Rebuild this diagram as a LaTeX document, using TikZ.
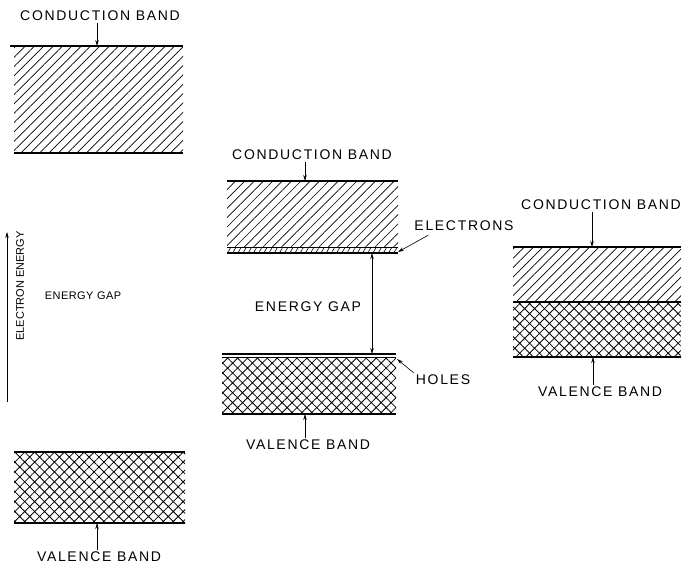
\documentclass[tikz,border=0pt]{standalone}
\usepackage{fontspec}
\setmainfont{Liberation Sans}
\newfontfamily\lblfont[LetterSpace=12]{Liberation Sans}
\newfontfamily\lblsmallfont[LetterSpace=4]{Liberation Sans}
\usepackage{tikz}
\usetikzlibrary{arrows.meta, patterns.meta}

\begin{document}
\begin{tikzpicture}[
    x=1pt, y=-1pt,
    lbl/.style={font=\lblfont\fontsize{14}{16}\selectfont, inner sep=2pt},
    lblsmall/.style={font=\lblsmallfont\fontsize{11}{13}\selectfont, inner sep=2pt},
    edge/.style={line width=1.4pt},
    thinedge/.style={line width=0.7pt},
    hatched/.style={pattern={Lines[angle=45, distance=6.6pt, line width=0.7pt]}},
    crossed/.style={pattern={Hatch[angle=45, distance=7pt, line width=0.8pt]}},
    dashes/.style={pattern={Lines[angle=60, distance=4.5pt, line width=0.6pt]}},
    pointer/.style={->, line width=0.6pt},
    >={Stealth[length=6pt, width=3.5pt]}
]
\useasboundingbox (0,0) rectangle (681,566);
% ============== Left: insulator ==================
\begin{scope}
  % electron energy axis
  \coordinate (axBot) at (7,402);
  \coordinate (axTop) at (7,232);
  \draw[pointer] (axBot) -- (axTop);
  \node[lblsmall, font=\fontsize{11}{13}\selectfont, rotate=90] (axis) at (20,286) {ELECTRON ENERGY};
  % conduction band
  \fill[hatched] (14,47) rectangle (183,153);
  \draw[edge] (10,46) -- (183,46);
  \draw[edge] (14,153) -- (183,153);
  \coordinate (cbApt) at (97,46);
  \node[lbl] (cbA) at (100,16) {CONDUCTION BAND};
  \draw[pointer] (cbA.south -| cbApt) -- (cbApt);
  \node[lblsmall] (gapA) at (83,296) {ENERGY GAP};
  % valence band
  \fill[crossed] (14,452) rectangle (185,523);
  \draw[edge] (14,452) -- (185,452);
  \draw[edge] (14,523) -- (185,523);
  \coordinate (vbApt) at (97,523);
  \node[lbl] (vbA) at (99,557) {VALENCE BAND};
  \draw[pointer] (vbA.north -| vbApt) -- (vbApt);
\end{scope}
% ============== Middle: semiconductor ==================
\begin{scope}
  % conduction band with electrons
  \fill[hatched] (227,182) rectangle (398,247);
  \fill[dashes] (227,247) rectangle (398,253);
  \draw[edge] (227,181) -- (398,181);
  \draw[thinedge] (227,247) -- (398,247);
  \draw[edge] (227,253) -- (398,253);
  \coordinate (cbBpt) at (305,181);
  \node[lbl] (cbB) at (312,155) {CONDUCTION BAND};
  \draw[pointer] (cbB.south -| cbBpt) -- (cbBpt);
  \coordinate (elecPt) at (398,252);
  \node[lbl] (elec) at (464,226) {ELECTRONS};
  \draw[pointer] ([xshift=16pt, yshift=-2pt]elec.south west) -- (elecPt);
  % energy gap
  \coordinate (gapTop) at (372,253);
  \coordinate (gapBot) at (372,354);
  \draw[<->, line width=0.6pt] (gapTop) -- (gapBot);
  \node[lbl] (gapB) at (308,307) {ENERGY GAP};
  % valence band with holes
  \fill[crossed] (222,357) rectangle (396,414);
  \draw[edge] (222,354) -- (396,354);
  \draw[thinedge] (222,357) -- (396,357);
  \draw[edge] (222,414) -- (396,414);
  \coordinate (holePt) at (397,359);
  \node[lbl] (holes) at (443,380) {HOLES};
  \draw[pointer] (holes.north west) -- (holePt);
  \coordinate (vbBpt) at (305,414);
  \node[lbl] (vbB) at (308,445) {VALENCE BAND};
  \draw[pointer] (vbB.north -| vbBpt) -- (vbBpt);
\end{scope}
% ============== Right: metal (overlapping bands) ==================
\begin{scope}
  \fill[hatched] (513,248) rectangle (681,302);
  \fill[crossed] (513,302) rectangle (681,357);
  \draw[edge] (513,247) -- (681,247);
  \draw[edge] (513,302) -- (681,302);
  \draw[edge] (513,357) -- (681,357);
  \coordinate (cbCpt) at (592,247);
  \node[lbl] (cbC) at (601,205) {CONDUCTION BAND};
  \draw[pointer] (cbC.south -| cbCpt) -- (cbCpt);
  \coordinate (vbCpt) at (593,357);
  \node[lbl] (vbC) at (600,392) {VALENCE BAND};
  \draw[pointer] (vbC.north -| vbCpt) -- (vbCpt);
\end{scope}
\end{tikzpicture}
\end{document}
